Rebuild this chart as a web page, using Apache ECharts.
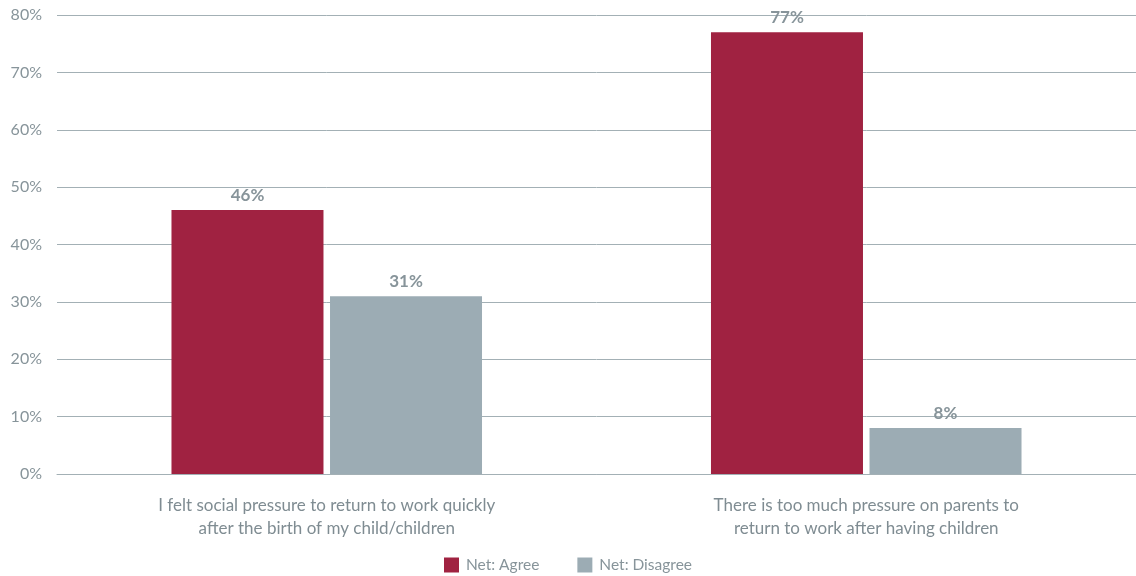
<!DOCTYPE html>
<html>
<head>
<meta charset="utf-8">
<script src="https://cdn.jsdelivr.net/npm/echarts@6/dist/echarts.min.js"></script>
<style>
  html, body { margin: 0; padding: 0; background: #ffffff; }
  #chart { width: 1136px; height: 576px; }
</style>
</head>
<body>
<div id="chart"></div>
<script>
// Survey statements (x axis)
const categories = [
  'I felt social pressure to return to work quickly\nafter the birth of my child/children',
  'There is too much pressure on parents to\nreturn to work after having children'
];
// Share of respondents, in percent
const agreeValues = [46, 77];
const disagreeValues = [31, 8];
const seriesNames = ['Net: Agree', 'Net: Disagree'];
const yTicks = [0, 10, 20, 30, 40, 50, 60, 70, 80];

const font = 'Lato, "Open Sans", sans-serif';
const labelGrey = '#87949a';

const chart = echarts.init(document.getElementById('chart'), null, { renderer: 'canvas' });

const barLabel = {
  show: true,
  position: 'top',
  distance: 6,
  formatter: p => p.value + '%',
  color: labelGrey,
  fontFamily: font,
  fontWeight: 'bold',
  fontSize: 17
};

chart.setOption({
  animation: false,
  grid: { left: 57, right: 0, top: 15, bottom: 102, containLabel: false },
  legend: {
    bottom: 3,
    left: 'center',
    padding: 0,
    itemWidth: 15,
    itemHeight: 15,
    itemGap: 38,
    icon: 'rect',
    textStyle: { color: labelGrey, fontFamily: font, fontSize: 15.5, padding: [0, 0, 0, 2] },
    data: seriesNames
  },
  xAxis: {
    type: 'category',
    data: categories,
    axisTick: { show: false },
    axisLine: { show: true, lineStyle: { color: '#a3b0b5', width: 1 } },
    axisLabel: {
      color: '#7f8c92',
      fontFamily: font,
      fontSize: 17,
      lineHeight: 23,
      margin: 20
    }
  },
  yAxis: {
    type: 'value',
    min: yTicks[0],
    max: yTicks[yTicks.length - 1],
    interval: 10,
    axisLine: { show: false },
    axisTick: { show: false },
    splitLine: { lineStyle: { color: '#a3b0b5', width: 1 } },
    axisLabel: {
      formatter: v => v + '%',
      color: labelGrey,
      fontFamily: font,
      fontSize: 16,
      margin: 15
    }
  },
  series: [
    {
      name: seriesNames[0],
      type: 'bar',
      data: agreeValues,
      barWidth: 152,
      barGap: '4.3%',
      itemStyle: { color: '#a02241' },
      label: barLabel
    },
    {
      name: seriesNames[1],
      type: 'bar',
      data: disagreeValues,
      barWidth: 152,
      barGap: '4.3%',
      itemStyle: { color: '#9cacb4' },
      label: barLabel
    }
  ]
});
</script>
</body>
</html>
